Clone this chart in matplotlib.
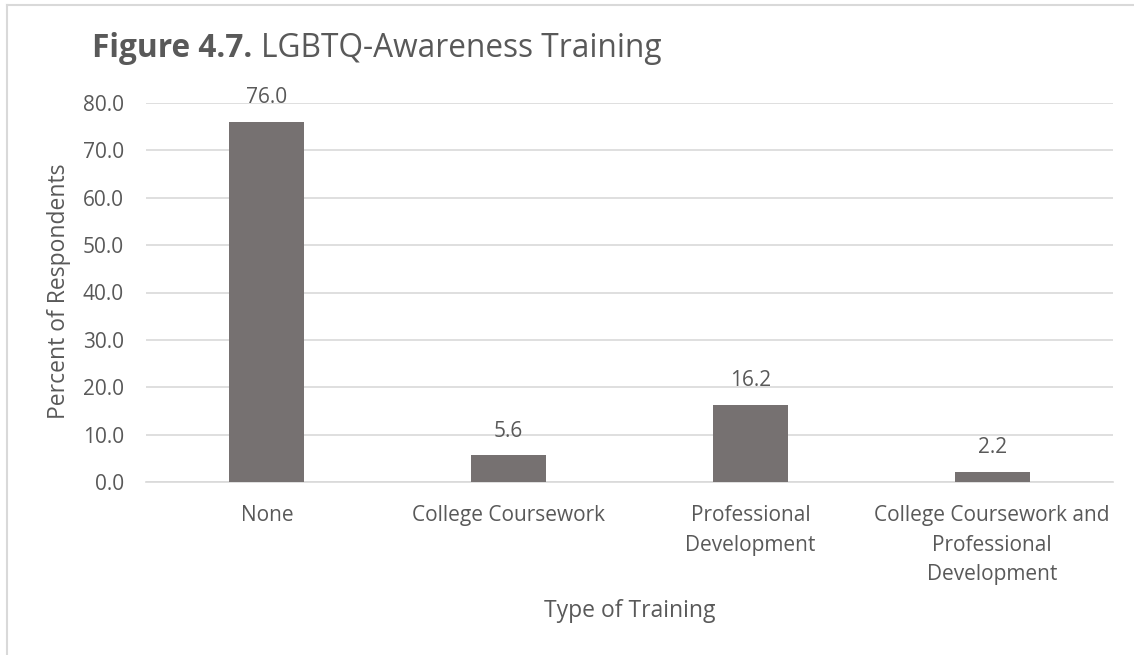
import matplotlib

matplotlib.use("Agg")
import matplotlib.pyplot as plt
from matplotlib.lines import Line2D

# Du lieu doc tu bieu do goc
categories = [
    "None",
    "College Coursework",
    "Professional\nDevelopment",
    "College Coursework and\nProfessional\nDevelopment",
]
percents = [76.0, 5.6, 16.2, 2.2]
y_ticks = [0, 10, 20, 30, 40, 50, 60, 70, 80]

TEXT_COLOR = "#595959"
BAR_COLOR = "#767171"
GRID_COLOR = "#d9d9d9"
W, H = 1134, 655

plt.rcParams["font.family"] = ["Open Sans", "DejaVu Sans"]

fig = plt.figure(figsize=(W / 100, H / 100), dpi=100)
ax = fig.add_axes([146 / W, 1 - 482 / H, (1113 - 146) / W, (482 - 103) / H])

x = list(range(len(categories)))
bars = ax.bar(x, percents, width=0.31, color=BAR_COLOR, zorder=3)

ax.set_xlim(-0.5, len(categories) - 0.5)
ax.set_ylim(0, 80)
ax.set_yticks(y_ticks)
ax.set_yticklabels([f"{v:.1f}" for v in y_ticks])
ax.set_xticks(x)
ax.set_xticklabels(categories, linespacing=1.54)
ax.tick_params(axis="both", length=0, colors=TEXT_COLOR, labelsize=15)
ax.tick_params(axis="x", pad=16.5)
ax.tick_params(axis="y", pad=16)

ax.yaxis.grid(True, color=GRID_COLOR, linewidth=1.2, zorder=0)
for side in ["top", "right", "left"]:
    ax.spines[side].set_visible(False)
ax.spines["bottom"].set_color(GRID_COLOR)
ax.spines["bottom"].set_linewidth(1.2)

for bar, value in zip(bars, percents):
    ax.annotate(
        f"{value:.1f}",
        (bar.get_x() + bar.get_width() / 2, bar.get_height()),
        xytext=(0, 10),
        textcoords="offset points",
        ha="center",
        va="bottom",
        fontsize=15,
        color=TEXT_COLOR,
    )

# Nhan truc
fig.text(59 / W, 1 - 291 / H, "Percent of Respondents", rotation=90, fontsize=16.5,
         color=TEXT_COLOR, ha="center", va="center")
fig.text(629.5 / W, 1 - 611 / H, "Type of Training", fontsize=16.5,
         color=TEXT_COLOR, ha="center", va="center")

# Tieu de: phan "Figure 4.7." in dam
t1 = fig.text(92 / W, 1 - 57 / H, "Figure 4.7.", fontsize=22.8, fontweight="bold",
              color=TEXT_COLOR, va="baseline", ha="left")
fig.canvas.draw()
bb = t1.get_window_extent()
fig.text((bb.x1 + 9) / W, 1 - 57 / H, "LGBTQ-Awareness Training", fontsize=22.8,
         color=TEXT_COLOR, va="baseline", ha="left")

# Khung vien xam nhat quanh bieu do
fig.add_artist(Line2D([7 / W, 7 / W], [0, 1 - 5 / H], color=GRID_COLOR, linewidth=1.5,
                      transform=fig.transFigure))
fig.add_artist(Line2D([7 / W, 1], [1 - 5 / H, 1 - 5 / H], color=GRID_COLOR, linewidth=1.5,
                      transform=fig.transFigure))

fig.savefig("out.png", dpi=100)
